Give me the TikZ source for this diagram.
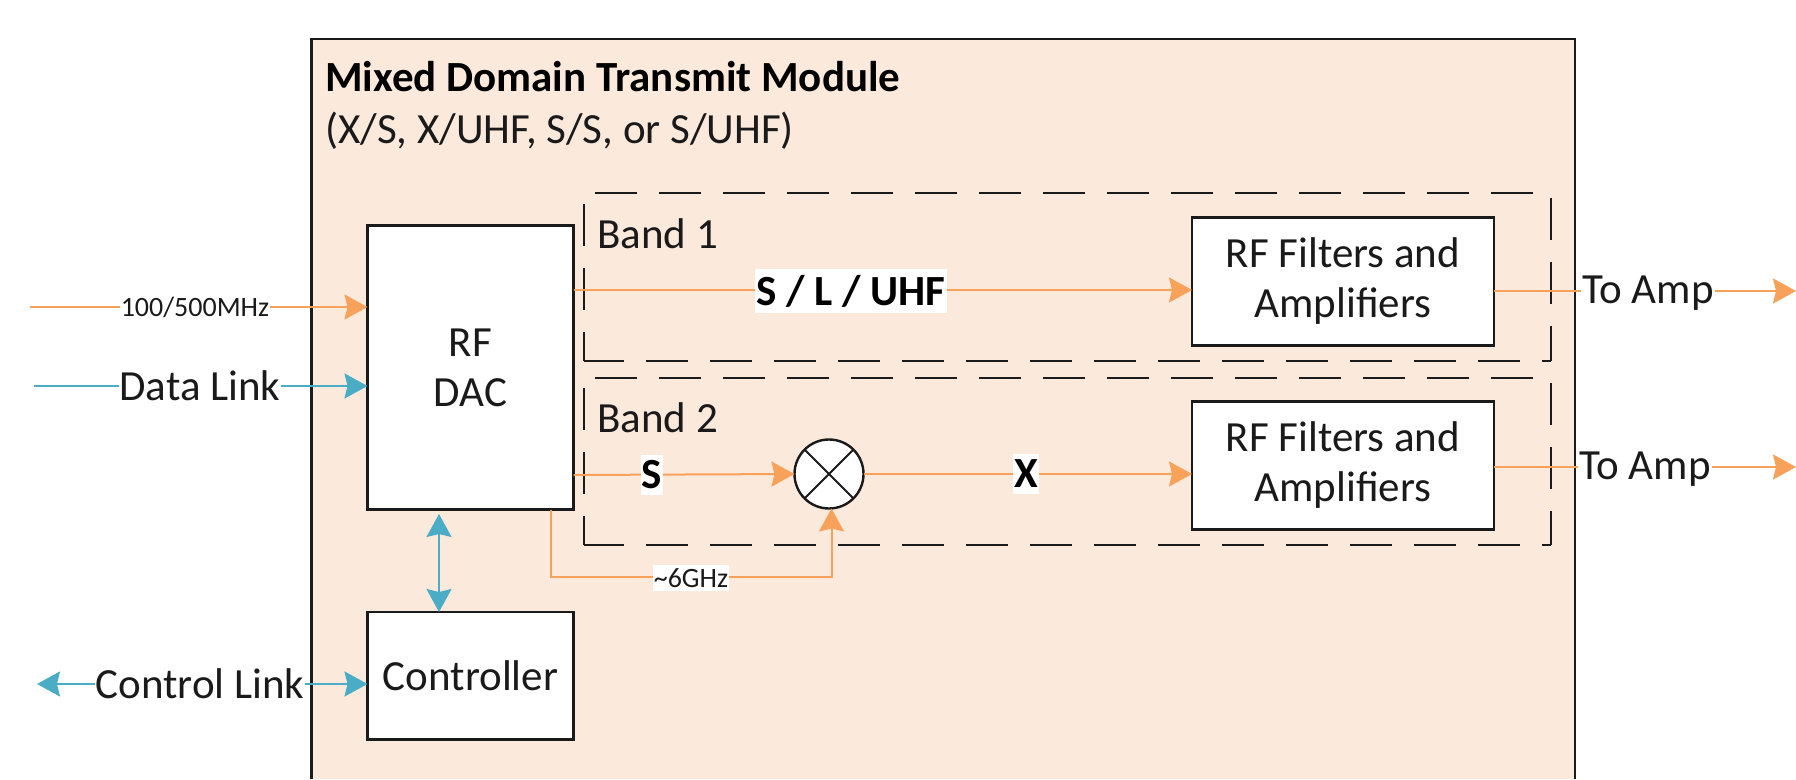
\documentclass[tikz,border=0pt]{standalone}
\usepackage{fontspec}
\setmainfont{Carlito}
\usetikzlibrary{arrows.meta}
\definecolor{modfill}{HTML}{FBE9DB}
\definecolor{sigorange}{HTML}{F7A15A}
\definecolor{sigblue}{HTML}{4BACC6}
\definecolor{inkdark}{HTML}{1A1A1A}
\tikzset{
  x=1pt,y=-1pt,
  tiphead/.tip={Stealth[length=23pt,width=25pt,inset=3pt]},
  whitebox/.style={draw=inkdark,fill=white,line width=2.4pt,outer sep=0pt,anchor=north west,inner sep=0pt,align=center,font=\fontsize{43}{50}\selectfont,text=inkdark},
  orangeline/.style={draw=sigorange,line width=2pt,-{tiphead}},
  blueline/.style={draw=sigblue,line width=2pt,-{tiphead}},
  bandedge/.style={draw=inkdark,line width=2.4pt,dash pattern=on 42pt off 22pt},
  lbl/.style={font=\fontsize{43}{48}\selectfont,text=inkdark,fill=white,inner xsep=1pt,inner ysep=0pt},
  plainlbl/.style={font=\fontsize{43}{48}\selectfont,text=inkdark,inner sep=0pt,anchor=west},
  smalllbl/.style={font=\fontsize{28}{32}\selectfont,text=inkdark,fill=white,inner xsep=1pt,inner ysep=3pt},
  boldlbl/.style={font=\fontsize{43}{48}\selectfont\bfseries,text=black,fill=white,inner xsep=1pt,inner ysep=6pt},
}
\begin{document}
\begin{tikzpicture}
\useasboundingbox (0,0) rectangle (1796,779);
% module
\fill[modfill] (311.5,39) rectangle (1575,779);
\draw[inkdark,line width=2.4pt] (311.5,779) -- (311.5,39) -- (1575,39) -- (1575,779);
\node[font=\fontsize{43}{48}\selectfont\bfseries,text=black,inner sep=0pt,anchor=west] (title) at (325,77) {Mixed Domain Transmit Module};
\node[font=\fontsize{43}{48}\selectfont,text=inkdark,inner sep=0pt,anchor=west] (subtitle) at (325,131) {(X/S, X/UHF, S/S, or S/UHF)};
% band 1 dashed
\draw[bandedge] (595,193) -- (1534,193);
\draw[bandedge] (584,204) -- (584,361);
\draw[bandedge] (1551,198) -- (1551,361);
\draw[bandedge,dash phase=2pt] (584,361) -- (1551,361);
% band 2 dashed
\draw[bandedge] (595,378) -- (1534,378);
\draw[bandedge] (584,388) -- (584,545);
\draw[bandedge] (1551,383) -- (1551,545);
\draw[bandedge,dash phase=2pt] (584,545) -- (1551,545);
\node[plainlbl] (band1) at (597,234) {Band 1};
\node[plainlbl] (band2) at (597,418) {Band 2};
% boxes
\node[whitebox,minimum width=206pt,minimum height=284pt] (dac) at (367.5,225.5) {RF\\DAC};
\node[whitebox,minimum width=206pt,minimum height=127.5pt] (ctrl) at (367.5,612) {Controller};
\node[whitebox,minimum width=302pt,minimum height=128pt] (filt1) at (1192,217.5) {\rule{0pt}{4pt}RF Filters and\\Amplifiers};
\node[whitebox,minimum width=302pt,minimum height=128pt] (filt2) at (1192,401.5) {\rule{0pt}{4pt}RF Filters and\\Amplifiers};
\node[draw=inkdark,fill=white,circle,line width=2.4pt,outer sep=0pt,minimum size=69pt,inner sep=0pt] (mix) at (829,474) {};
\draw[inkdark,line width=2pt] (mix.45) -- (mix.225) (mix.135) -- (mix.315);
% free ends
\coordinate (in1) at (30,307);
\coordinate (in2) at (34,386);
\coordinate (in3) at (37,684);
\coordinate (out1) at (1796,291);
\coordinate (out2) at (1796,467);
\coordinate (tap) at (551,509.5);
% connectors
\draw[orangeline] (in1) -- (dac.west |- in1);
\draw[blueline] (in2) -- (dac.west |- in2);
\draw[draw=sigblue,line width=2pt,{tiphead}-{tiphead}] (in3) -- (ctrl.west |- in3);
\draw[draw=sigblue,line width=2pt,{tiphead}-{tiphead}] (439,514) -- (ctrl.north -| 439,0);
\draw[orangeline] (dac.east |- 0,290) -- (filt1.west |- 0,290);
\draw[orangeline] (filt1.east |- 0,291) -- (out1);
\draw[orangeline] (dac.east |- 0,475) -- (mix.west);
\draw[orangeline] (mix.east) -- (filt2.west |- 0,474);
\draw[orangeline] (filt2.east |- 0,467) -- (out2);
\draw[orangeline] (tap) -- (551,577) -- (831.5,577) -- (mix.south -| 831.5,0);
% labels on connectors
\node[smalllbl] (lclock) at (195,307) {100/500MHz};
\node[lbl] (ldata) at (200,386) {Data Link};
\node[lbl] (lctrl) at (200,684) {Control Link};
\node[lbl] (lamp1) at (1648,293) {To Amp};
\node[lbl] (lamp2) at (1645,469) {To Amp};
\node[boldlbl] (lbandone) at (851,291) {S / L / UHF};
\node[boldlbl] (lsb) at (652,475) {S};
\node[boldlbl] (lx) at (1026,474) {X};
\node[smalllbl] (llo) at (691,578) {\textasciitilde 6GHz};
\end{tikzpicture}
\end{document}
